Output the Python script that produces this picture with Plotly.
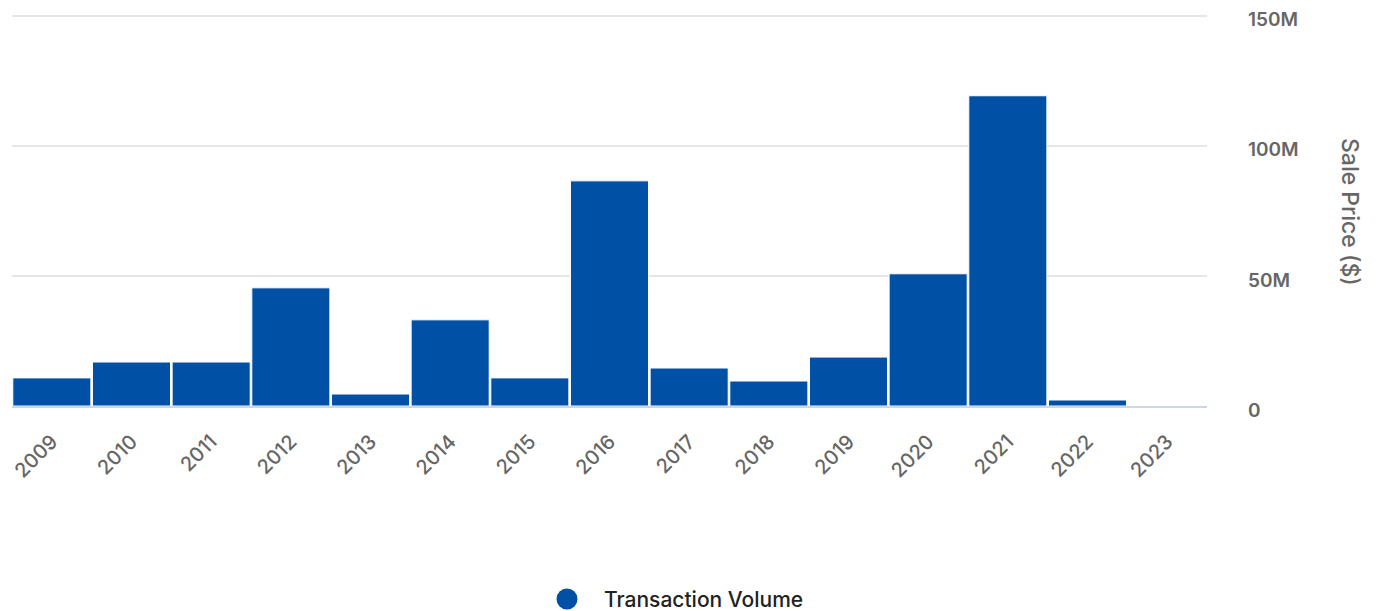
import plotly.graph_objects as go

# Yearly transaction volume (sale price, USD)
years = ["2009", "2010", "2011", "2012", "2013", "2014", "2015", "2016",
         "2017", "2018", "2019", "2020", "2021", "2022", "2023"]
volume_musd = [10.8, 16.9, 16.9, 45.4, 4.6, 33.1, 10.8, 86.5,
               14.6, 9.6, 18.8, 50.8, 119.2, 2.3, 0.0]
volume = [v * 1e6 for v in volume_musd]

y_tickvals = [0, 50e6, 100e6, 150e6]
y_ticktext = ["0", "50M", "100M", "150M"]
series_name = "Transaction Volume"

BAR_COLOR = "#0050a5"
FONT = "Inter"

# plot-area geometry in pixels
W, H = 1379, 611
ML, MR, MT, MB = 12, 172, 13, 205
PW, PH = W - ML - MR, H - MT - MB


def px_to_paper(px, py):
    return (px - ML) / PW, (H - MB - py) / PH


fig = go.Figure()
fig.add_trace(go.Bar(
    x=years, y=volume, name=series_name,
    marker=dict(color=BAR_COLOR, line=dict(color="white", width=1)),
    showlegend=False,
))

# legend: round swatch followed by the series name, centred under the chart
dot_x, dot_y = px_to_paper(567, 599)
txt_x, _ = px_to_paper(602, 599)
fig.add_shape(
    type="circle", xref="paper", yref="paper",
    xsizemode="pixel", ysizemode="pixel",
    xanchor=dot_x, yanchor=dot_y,
    x0=-10.5, x1=10.5, y0=-10.5, y1=10.5,
    fillcolor=BAR_COLOR, line=dict(width=0),
)
fig.add_annotation(
    text=series_name, xref="paper", yref="paper",
    x=txt_x, y=dot_y, xanchor="left", yanchor="middle", showarrow=False,
    font=dict(size=21, color="#222222", family=FONT, weight=500),
)

fig.update_layout(
    width=W, height=H,
    margin=dict(l=ML, r=MR, t=MT, b=MB, autoexpand=False),
    plot_bgcolor="white", paper_bgcolor="white",
    bargap=0.02, showlegend=False,
    font=dict(family=FONT, color="#666666"),
    xaxis=dict(
        type="category", tickangle=-45, automargin=False,
        tickfont=dict(size=20, color="#666666", family=FONT, weight=500),
        showline=True, linecolor="#ccd6eb", linewidth=2,
        showgrid=False, ticks="", ticklabelstandoff=14,
    ),
    yaxis=dict(
        side="right", range=[0, 151e6], automargin=False,
        tickvals=y_tickvals, ticktext=y_ticktext,
        tickfont=dict(size=19, color="#666666", family=FONT, weight=600),
        showgrid=True, gridcolor="#e6e6e6", gridwidth=2,
        zeroline=False, ticks="", ticklabelstandoff=40, ticklabelshift=4,
    ),
)

fig.add_annotation(
    text="Sale Price ($)", xref="paper", yref="paper",
    x=1, xshift=159, y=px_to_paper(0, 212)[1], textangle=90, showarrow=False,
    font=dict(size=23, color="#666666", family=FONT, weight=500),
)

fig.write_html("out.html")
